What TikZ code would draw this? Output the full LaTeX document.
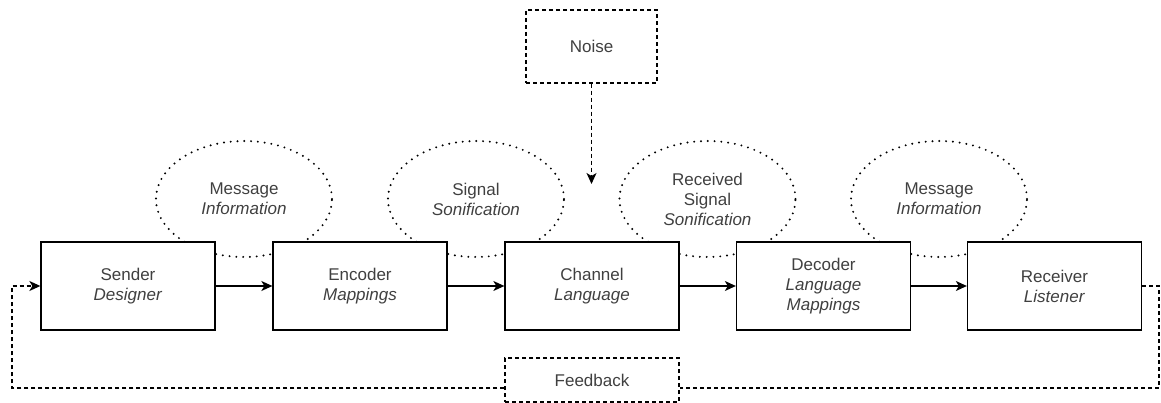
\documentclass[tikz,border=0pt]{standalone}
\usepackage{fontspec}
\setmainfont{Liberation Sans}
\usetikzlibrary{arrows.meta,shapes.geometric}
\definecolor{txt}{HTML}{404040}
\begin{document}
\begin{tikzpicture}[x=1pt,y=-1pt,
  every node/.style={font=\fontsize{17}{20}\selectfont, text=txt, align=center},
  procbox/.style={draw=black, line width=1.3pt, fill=white, minimum width=174pt, minimum height=88pt, inner sep=0pt},
  dashbox/.style={draw=black, line width=1.3pt, fill=white, dash pattern=on 4pt off 3pt, inner sep=0pt},
  cloud/.style={ellipse, draw=black, line width=2.2pt, line cap=round, dash pattern=on 0pt off 6.8pt, minimum width=176pt, minimum height=116pt, inner sep=0pt},
  flow/.style={line width=1.3pt, -{Stealth[length=11pt,width=10pt,inset=3pt]}},
  dflow/.style={line width=1.3pt, dash pattern=on 4pt off 3pt, -{Stealth[length=11pt,width=10pt,inset=3pt]}},
  dline/.style={line width=1.3pt, dash pattern=on 4pt off 3pt}
]
\useasboundingbox (0,0) rectangle (1161,403);
% ellipses (behind boxes)
\node[cloud] (e1) at (244,199) {Message\\\textit{Information}};
\node[cloud] (e2) at (476,199) {Signal\\\textit{Sonification}};
\node[cloud] (e3) at (707.5,199) {Received\\Signal\\\textit{Sonification}};
\node[cloud] (e4) at (939,199) {Message\\\textit{Information}};
% boxes
\node[procbox] (S) at (128,286) {Sender\\\textit{Designer}};
\node[procbox] (E) at (360,286) {Encoder\\\textit{Mappings}};
\node[procbox] (C) at (592,286) {Channel\\\textit{Language}};
\node[procbox] (D) at (823.5,286) {Decoder\\\textit{Language}\\\textit{Mappings}};
\node[procbox] (R) at (1054.5,286) {Receiver\\\textit{Listener}};
% noise
\node[dashbox, minimum width=131pt, minimum height=73pt] (N) at (591.5,46.5) {Noise};
\coordinate (nt) at (591.5,184);
\draw[dflow] (N.south) -- (nt);
% flows
\draw[flow] (S.east) -- (E.west);
\draw[flow] (E.east) -- (C.west);
\draw[flow] (C.east) -- (D.west);
\draw[flow] (D.east) -- (R.west);
% feedback
\node[dashbox, minimum width=174pt, minimum height=44pt] (F) at (592,380) {Feedback};
\coordinate (rc) at (1159,388);
\coordinate (lc) at (12,388);
\draw[dline] (R.east) -| (rc) -- (F.east |- rc);
\draw[dflow] (F.west |- lc) -- (lc) |- (S.west);
\end{tikzpicture}
\end{document}
